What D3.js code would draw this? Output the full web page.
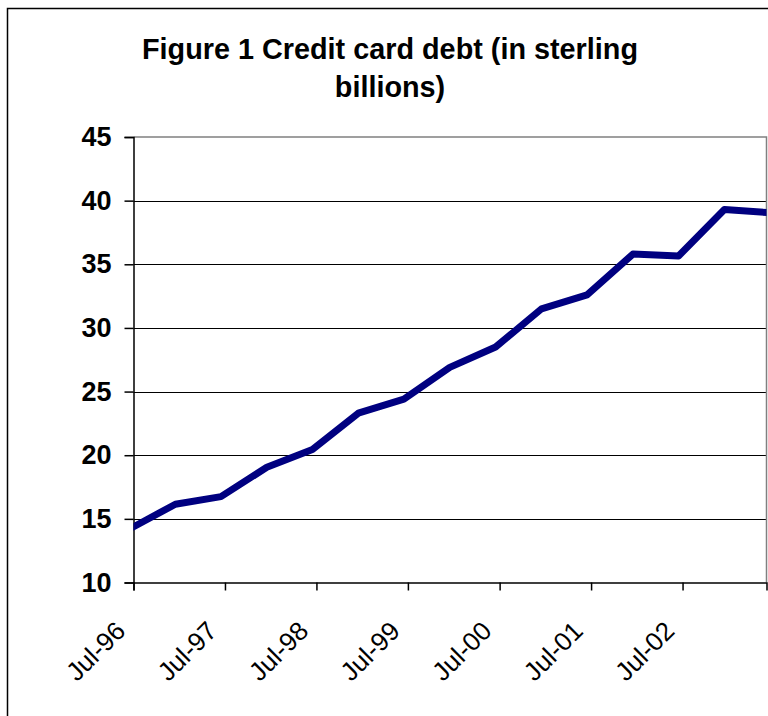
<!DOCTYPE html>
<html>
<head>
<meta charset="utf-8">
<script src="https://cdn.jsdelivr.net/npm/d3@7"></script>
<style>
  body { margin: 0; background: #fff; }
  svg { display: block; font-family: "Liberation Sans", Arial, sans-serif; }
</style>
</head>
<body>
<div id="chart"></div>
<script>
// observation dates (half-yearly) and credit card debt, sterling billions
const dates = ["1996-06-15", "1996-12-15", "1997-06-15", "1997-12-15", "1998-06-15",
  "1998-12-15", "1999-06-15", "1999-12-15", "2000-06-15", "2000-12-15",
  "2001-06-15", "2001-12-15", "2002-06-15", "2002-12-15", "2003-06-15"];
const debt = [14.2, 16.15, 16.75, 19.05, 20.45, 23.3, 24.4, 26.9, 28.5, 31.5,
  32.6, 35.8, 35.65, 39.3, 39.05];
const xTicks = ["1996-07-01", "1997-07-01", "1998-07-01", "1999-07-01",
  "2000-07-01", "2001-07-01", "2002-07-01"];
const yTicks = [10, 15, 20, 25, 30, 35, 40, 45];
const titleLines = ["Figure 1 Credit card debt (in sterling", "billions)"];

const W = 768, H = 716;
const plotL = 133.5, plotR = 766.5, plotT = 137, plotB = 582.5;
const parse = d3.timeParse("%Y-%m-%d");
const fmt = d3.timeFormat("%b-%y");

const svg = d3.select("#chart").append("svg")
  .attr("width", W).attr("height", H);

// outer chart frame (cropped at right/bottom)
svg.append("rect")
  .attr("x", 7.5).attr("y", 8.5)
  .attr("width", 800).attr("height", 800)
  .attr("fill", "#fff").attr("stroke", "#000").attr("stroke-width", 1.5);

const x = d3.scaleTime()
  .domain([parse("1996-07-01"), parse("2003-06-01")])
  .range([plotL, plotR]);
const y = d3.scaleLinear().domain([10, 45]).range([plotB, plotT]);

// title
svg.append("g").selectAll("text")
  .data(titleLines)
  .enter().append("text")
  .attr("x", 390)
  .attr("y", (d, i) => 59 + i * 38)
  .attr("text-anchor", "middle")
  .style("font-size", "28.8px")
  .style("font-weight", "bold")
  .text(d => d);

// gridlines
svg.append("g").selectAll("line")
  .data(yTicks.filter(v => v > 10 && v < 45))
  .enter().append("line")
  .attr("x1", plotL).attr("x2", plotR)
  .attr("y1", d => Math.round(y(d)) + 0.5).attr("y2", d => Math.round(y(d)) + 0.5)
  .attr("stroke", "#000").attr("stroke-width", 1);

// plot border top/right in gray
svg.append("path")
  .attr("d", `M${plotL},${plotT}H${plotR}V${plotB}`)
  .attr("fill", "none").attr("stroke", "#808080").attr("stroke-width", 1.5);

// y axis
const yAxis = svg.append("g")
  .attr("transform", `translate(${plotL},0)`)
  .call(d3.axisLeft(y).tickValues(yTicks).tickSize(9).tickPadding(13));
yAxis.select(".domain").attr("stroke", "#000").attr("stroke-width", 1.5);
yAxis.selectAll(".tick line").attr("stroke", "#000").attr("stroke-width", 1.5);
yAxis.selectAll("text")
  .style("font-size", "27px").style("font-weight", "bold")
  .style("font-family", "'Liberation Sans', Arial, sans-serif")
  .attr("fill", "#000");

// x axis
const xAxis = svg.append("g")
  .attr("transform", `translate(0,${plotB})`)
  .call(d3.axisBottom(x).tickValues(xTicks.map(parse)).tickFormat(fmt).tickSize(8));
xAxis.select(".domain").attr("stroke", "#000").attr("stroke-width", 1.5);
xAxis.selectAll(".tick line").attr("stroke", "#000").attr("stroke-width", 1.5);
xAxis.selectAll("text")
  .style("font-size", "26px")
  .style("font-family", "'Liberation Sans', Arial, sans-serif")
  .attr("fill", "#000")
  .attr("text-anchor", "end")
  .attr("dy", 0)
  .attr("y", 0)
  .attr("transform", "translate(-7,50) rotate(-45)");

// clip for the line
svg.append("clipPath").attr("id", "plot-clip")
  .append("rect")
  .attr("x", plotL).attr("y", plotT - 10)
  .attr("width", plotR - plotL).attr("height", plotB - plotT + 10);

const series = dates.map((d, i) => ({ date: parse(d), value: debt[i] }));
const line = d3.line()
  .x(d => x(d.date))
  .y(d => y(d.value));

svg.append("path")
  .datum(series)
  .attr("clip-path", "url(#plot-clip)")
  .attr("d", line)
  .attr("fill", "none")
  .attr("stroke", "#000080")
  .attr("stroke-width", 7)
  .attr("stroke-linejoin", "round");
</script>
</body>
</html>
